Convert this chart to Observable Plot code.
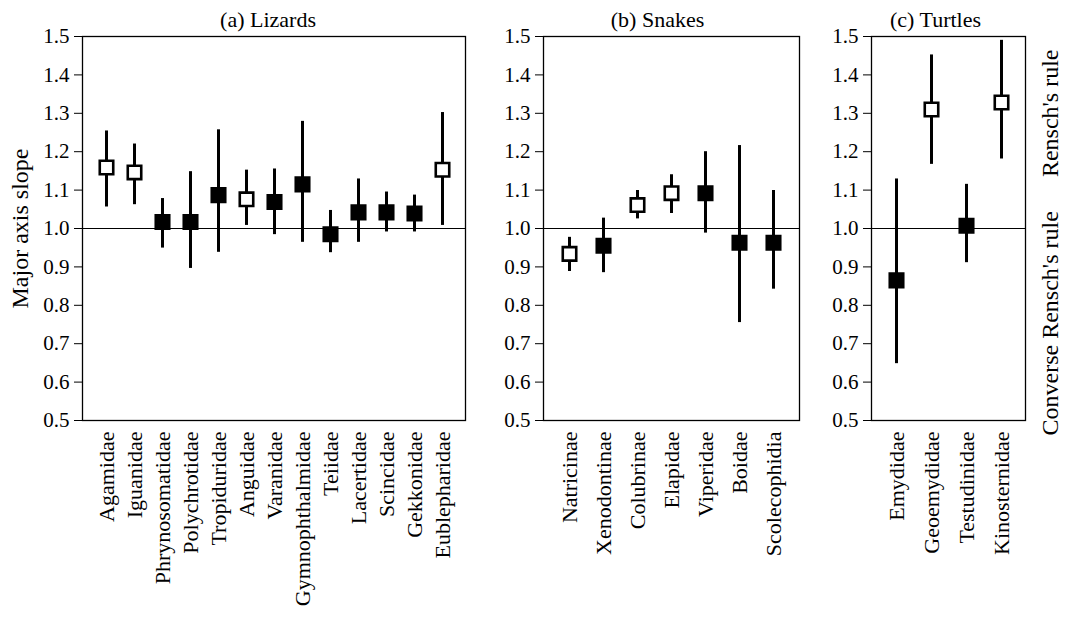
<!DOCTYPE html>
<html>
<head>
<meta charset="utf-8">
<script src="https://cdn.jsdelivr.net/npm/d3@7"></script>
<script src="https://cdn.jsdelivr.net/npm/@observablehq/plot@0.6"></script>
<style>
  body { margin: 0; background: #fff; }
  #chart { position: relative; width: 1068px; height: 622px; background: #fff; }
</style>
</head>
<body>
<div id="chart"></div>
<script>
// Major-axis slopes (with 95% CI) of male vs. female body size by family.
// Open squares: slope differs significantly from isometry (1.0).
const yTicks = [0.5, 0.6, 0.7, 0.8, 0.9, 1.0, 1.1, 1.2, 1.3, 1.4, 1.5];

const lizardFamilies = ["Agamidae", "Iguanidae", "Phrynosomatidae", "Polychrotidae", "Tropiduridae", "Anguidae",
  "Varanidae", "Gymnophthalmidae", "Teiidae", "Lacertidae", "Scincidae", "Gekkonidae", "Eublepharidae"];
const lizardSlope = [1.159, 1.146, 1.017, 1.017, 1.087, 1.076, 1.069, 1.115, 0.985, 1.042, 1.042, 1.039, 1.153];
const lizardLower = [1.056, 1.062, 0.949, 0.896, 0.938, 1.008, 0.984, 0.964, 0.937, 0.964, 0.991, 0.991, 1.008];
const lizardUpper = [1.254, 1.220, 1.078, 1.148, 1.257, 1.152, 1.155, 1.279, 1.047, 1.129, 1.095, 1.087, 1.302];
const lizardSignificant = [true, true, false, false, false, true, false, false, false, false, false, false, true];

const snakeFamilies = ["Natricinae", "Xenodontinae", "Colubrinae", "Elapidae", "Viperidae", "Boidae", "Scolecophidia"];
const snakeSlope = [0.934, 0.955, 1.061, 1.092, 1.092, 0.963, 0.963];
const snakeLower = [0.888, 0.885, 1.025, 1.039, 0.988, 0.755, 0.842];
const snakeUpper = [0.977, 1.027, 1.099, 1.140, 1.200, 1.216, 1.099];
const snakeSignificant = [true, false, true, true, false, false, false];

const turtleFamilies = ["Emydidae", "Geoemydidae", "Testudinidae", "Kinosternidae"];
const turtleSlope = [0.865, 1.310, 1.007, 1.328];
const turtleLower = [0.648, 1.167, 0.911, 1.181];
const turtleUpper = [1.129, 1.452, 1.115, 1.490];
const turtleSignificant = [false, true, false, true];

const ruleLabels = ["Rensch's rule", "Converse Rensch's rule"];
const ruleLabelSlope = [1.30, 0.753];

const FONT = "'Liberation Serif', 'Times New Roman', serif";

function rowsOf(families, slope, lower, upper, significant) {
  return families.map((family, i) => ({family, slope: slope[i], lower: lower[i], upper: upper[i], significant: significant[i]}));
}

function panel({title, rows, left, width, marginLeft, marginRight, titleDx, extra = []}) {
  return Plot.plot({
    width,
    height: 622,
    marginLeft,
    marginRight,
    marginTop: 36,
    marginBottom: 202,
    style: {fontFamily: FONT, color: "black", background: "transparent", position: "absolute", left: `${left}px`, top: "0px", overflow: "visible"},
    x: {type: "point", domain: rows.map(d => d.family), padding: 0.66},
    y: {domain: [0.5, 1.5]},
    marks: [
      Plot.ruleY([1.0], {stroke: "black", strokeWidth: 1}),
      Plot.ruleX(rows, {x: "family", y1: "lower", y2: "upper", stroke: "black", strokeWidth: 3}),
      Plot.dot(rows.filter(d => !d.significant), {x: "family", y: "slope", symbol: "square", r: 7.6, fill: "black", stroke: "black", strokeWidth: 2.6}),
      Plot.dot(rows.filter(d => d.significant), {x: "family", y: "slope", symbol: "square", r: 7.6, fill: "white", stroke: "black", strokeWidth: 2.6}),
      Plot.frame({stroke: "black", strokeWidth: 1.3}),
      Plot.axisY({ticks: yTicks, tickFormat: d3.format(".1f"), tickSize: 8, tickPadding: 5, fontSize: 21, label: null}),
      Plot.axisX({tickRotate: -90, tickSize: 0, tickPadding: 11, fontSize: 22, label: null}),
      Plot.text([title], {frameAnchor: "top", lineAnchor: "bottom", dy: -10, dx: titleDx, fontSize: 22}),
      ...extra
    ]
  });
}

const chart = document.getElementById("chart");

chart.append(panel({
  title: "(a) Lizards",
  rows: rowsOf(lizardFamilies, lizardSlope, lizardLower, lizardUpper, lizardSignificant),
  left: 0, width: 470, marginLeft: 82, marginRight: 5, titleDx: -6,
  extra: [Plot.text(["Major axis slope"], {frameAnchor: "left", textAnchor: "middle", dx: -62, rotate: -90, fontSize: 24})]
}));

chart.append(panel({
  title: "(b) Snakes",
  rows: rowsOf(snakeFamilies, snakeSlope, snakeLower, snakeUpper, snakeSignificant),
  left: 470, width: 340, marginLeft: 73, marginRight: 11, titleDx: -14
}));

chart.append(panel({
  title: "(c) Turtles",
  rows: rowsOf(turtleFamilies, turtleSlope, turtleLower, turtleUpper, turtleSignificant),
  left: 810, width: 258, marginLeft: 61, marginRight: 43, titleDx: -13,
  extra: [Plot.text(ruleLabels, {y: (d, i) => ruleLabelSlope[i], text: d => d, frameAnchor: "right", textAnchor: "middle", dx: 25, rotate: -90, fontSize: 24})]
}));
</script>
</body>
</html>
